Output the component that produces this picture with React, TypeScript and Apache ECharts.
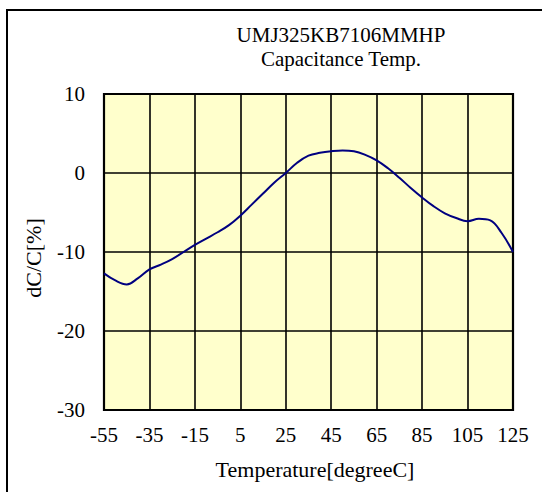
import React, { useEffect, useRef } from "react";
import * as echarts from "echarts";

const temperatures = [-55, -50, -45, -40, -35, -30, -25, -20, -15, -10, -5, 0, 5, 10, 15, 20, 25, 30, 35, 40, 45, 50, 55, 60, 65, 70, 75, 80, 85, 90, 95, 100, 105, 110, 115, 120, 125];
const dcValues = [-12.7, -13.6, -14.1, -13.3, -12.2, -11.6, -10.9, -10.0, -9.1, -8.3, -7.5, -6.6, -5.4, -4.0, -2.6, -1.2, 0.0, 1.3, 2.2, 2.55, 2.75, 2.85, 2.75, 2.3, 1.6, 0.6, -0.6, -1.9, -3.1, -4.2, -5.1, -5.7, -6.1, -5.8, -6.0, -7.6, -10.0];
const xTicks = { min: -55, max: 125, interval: 20 };
const yTicks = { min: -30, max: 10, interval: 10 };
const titleLines = ["UMJ325KB7106MMHP", "Capacitance Temp."];
const xName = "Temperature[degreeC]";
const yName = "dC/C[%]";

const FONT = "'Liberation Serif', 'Times New Roman', serif";

export default function App() {
  const ref = useRef<HTMLDivElement>(null);
  useEffect(() => {
    document.body.style.margin = "0";
    if (!ref.current) return;
    const chart = echarts.init(ref.current, null, { renderer: "svg" });
    const data = temperatures.map((t, i) => [t, dcValues[i]]);
    chart.setOption({
      animation: false,
      backgroundColor: "#ffffff",
      grid: {
        left: 104,
        right: 29,
        top: 94,
        bottom: 82,
        show: true,
        backgroundColor: "#FFFFCC",
        borderColor: "#000000",
        borderWidth: 0,
      },
      xAxis: {
        type: "value",
        min: xTicks.min,
        max: xTicks.max,
        interval: xTicks.interval,
        axisLine: { show: false },
        axisTick: { show: false },
        axisLabel: { color: "#000", fontFamily: FONT, fontSize: 21, margin: 14 },
        splitLine: { show: true, lineStyle: { color: "#000", width: 1.6 } },
      },
      yAxis: {
        type: "value",
        min: yTicks.min,
        max: yTicks.max,
        interval: yTicks.interval,
        axisLine: { show: false },
        axisTick: { show: false },
        axisLabel: { color: "#000", fontFamily: FONT, fontSize: 21, margin: 19 },
        splitLine: { show: true, lineStyle: { color: "#000", width: 1.6 } },
      },
      graphic: [
        {
          type: "rect",
          shape: { x: 7, y: 10, width: 700, height: 700 },
          style: { fill: "none", stroke: "#000", lineWidth: 2 },
          silent: true,
        },
        {
          type: "rect",
          shape: { x: 104, y: 94, width: 409, height: 316 },
          style: { fill: "none", stroke: "#000", lineWidth: 2.2 },
          silent: true,
          z: 10,
        },
        {
          type: "text",
          x: 341,
          y: 47,
          style: {
            text: titleLines.join("\n"),
            font: `21px ${FONT}`,
            lineHeight: 24,
            fill: "#000",
            align: "center",
            verticalAlign: "middle",
          },
        },
        {
          type: "text",
          x: 315,
          y: 469,
          style: { text: xName, font: `22px ${FONT}`, fill: "#000", align: "center", verticalAlign: "middle" },
        },
        {
          type: "text",
          x: 33,
          y: 258,
          rotation: Math.PI / 2,
          style: { text: yName, font: `22px ${FONT}`, fill: "#000", align: "center", verticalAlign: "middle" },
        },
      ],
      series: [
        {
          type: "line",
          data,
          smooth: 0.4,
          showSymbol: false,
          lineStyle: { color: "#000080", width: 2 },
          z: 20,
        },
      ],
    });
    return () => chart.dispose();
  }, []);
  return <div ref={ref} style={{ width: 542, height: 492 }} />;
}
